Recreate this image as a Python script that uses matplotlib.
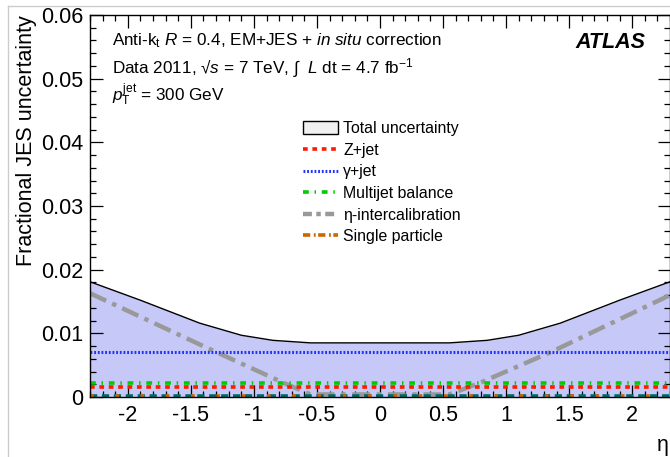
import matplotlib.pyplot as plt
from matplotlib.patches import Patch
from matplotlib.lines import Line2D
from matplotlib.ticker import MultipleLocator

plt.rcParams['font.family'] = ['Liberation Sans', 'DejaVu Sans']
plt.rcParams['mathtext.fontset'] = 'custom'
plt.rcParams['mathtext.rm'] = 'Liberation Sans'
plt.rcParams['mathtext.it'] = 'Liberation Sans:italic'
plt.rcParams['mathtext.bf'] = 'Liberation Sans:bold'
plt.rcParams['axes.unicode_minus'] = False

# data
eta_total = [-2.3, -1.9, -1.43, -1.1, -0.85, -0.55, 0.55, 0.85, 1.1, 1.43, 1.9, 2.3]
total_unc = [0.0181, 0.0152, 0.0116, 0.0097, 0.0089, 0.0085, 0.0085, 0.0089, 0.0097, 0.0116, 0.0152, 0.0181]

eta_inter = [-2.3, -1.37, -0.74, -0.55, 0.55, 0.79, 1.36, 2.3]
inter_unc = [0.0163, 0.0077, 0.0020, 0.0004, 0.0004, 0.0022, 0.0071, 0.0160]

eta_flat = [-2.3, 2.3]
gamma_jet = [0.0071, 0.0071]
multijet = [0.0022, 0.0022]
z_jet = [0.0016, 0.0016]
single_particle = [0.0001, 0.0001]
other_comp = [0.0001, 0.0001]

xticks = [-2, -1.5, -1, -0.5, 0, 0.5, 1, 1.5, 2]
xtick_labels = ['-2', '-1.5', '-1', '-0.5', '0', '0.5', '1', '1.5', '2']
yticks = [0, 0.01, 0.02, 0.03, 0.04, 0.05, 0.06]
ytick_labels = ['0', '0.01', '0.02', '0.03', '0.04', '0.05', '0.06']

fig = plt.figure(figsize=(6.7, 4.57), dpi=100)
ax = fig.add_axes([90/670, 1-397/457, 580/670, 382/457])

ax.fill_between(eta_total, 0, total_unc, color='#c6c8f8', lw=0)
ax.plot(eta_total, total_unc, color='black', lw=1)
ax.plot(eta_inter, inter_unc, color='#999999', lw=3.2, dashes=(4, 1.5, 1, 1.5))
ax.plot(eta_flat, gamma_jet, color='#2233ff', lw=2.2, dashes=(0.6, 0.6))
ax.plot(eta_flat, multijet, color='#00cc00', lw=2.6, dashes=(1.6, 1.6, 0.4, 1.6))
ax.plot(eta_flat, z_jet, color='#ff1a00', lw=2.6, dashes=(1.3, 1.3))
ax.plot(eta_flat, other_comp, color='#006868', lw=2.6, dashes=(2, 1.3))
ax.plot(eta_flat, single_particle, color='#cc6600', lw=2.6, dashes=(1, 6))

ax.set_xlim(-2.3, 2.3)
ax.set_ylim(0, 0.06)
ax.set_xticks(xticks)
ax.set_xticklabels(xtick_labels)
ax.set_yticks(yticks)
ax.set_yticklabels(ytick_labels)
ax.xaxis.set_minor_locator(MultipleLocator(0.1))
ax.yaxis.set_minor_locator(MultipleLocator(0.002))
ax.tick_params(which='both', direction='in', top=True, right=True, labelsize=15.5, width=0.9)
ax.tick_params(which='major', length=9)
ax.tick_params(which='minor', length=4.5)
ax.tick_params(axis='x', pad=6)
ax.tick_params(axis='y', pad=5)
for s in ax.spines.values():
    s.set_linewidth(1)

ax.set_ylabel('Fractional JES uncertainty', fontsize=15.5, loc='top', labelpad=3)
fig.text(663/670, 1-445/457, 'η', fontsize=15.5, ha='center', va='center')

ax.text(112/670, 1-41/457, 'Anti-k$_\\mathrm{t}$ $R$ = 0.4, EM+JES + $in\\ situ$ correction',
        transform=fig.transFigure, fontsize=12.3, va='center')
ax.text(112/670, 1-68/457, 'Data 2011, √$s$ = 7 TeV, $\\int$  $L$ dt = 4.7 fb$^{-1}$',
        transform=fig.transFigure, fontsize=12.3, va='center')
ax.text(112/670, 1-95/457, '$p_\\mathrm{T}^\\mathrm{jet}$ = 300 GeV',
        transform=fig.transFigure, fontsize=12.3, va='center')
ax.text(575/670, 1-42/457, 'ATLAS', transform=fig.transFigure, fontsize=15.5,
        fontweight='bold', fontstyle='italic', va='center')

handles = [
    Patch(facecolor='#f0f0f0', edgecolor='black', lw=1),
    Line2D([], [], color='#ff1a00', lw=2.6, dashes=(1.3, 1.3)),
    Line2D([], [], color='#2233ff', lw=2.2, dashes=(0.6, 0.6)),
    Line2D([], [], color='#00cc00', lw=2.6, dashes=(1.6, 1.6, 0.4, 1.6)),
    Line2D([], [], color='#999999', lw=3.2, dashes=(2, 1, 1, 1)),
    Line2D([], [], color='#cc6600', lw=2.6, dashes=(2, 1, 0.5, 0.7)),
]
labels = ['Total uncertainty', 'Z+jet', 'γ+jet', 'Multijet balance', 'η-intercalibration', 'Single particle']
ax.legend(handles, labels, loc='upper left', bbox_to_anchor=(303/670, 1-121/457),
          bbox_transform=fig.transFigure, frameon=False, fontsize=11.4,
          handlelength=2.2, handleheight=0.8, handletextpad=0.35, labelspacing=0.42,
          borderpad=0, borderaxespad=0)

# light page border seen in the reference
fig.add_artist(Line2D([8/670, 1], [1-6/457, 1-6/457], color='#cccccc', lw=1, transform=fig.transFigure))
fig.add_artist(Line2D([8/670, 8/670], [0, 1-6/457], color='#cccccc', lw=1, transform=fig.transFigure))

fig.savefig('out.png', dpi=100)
